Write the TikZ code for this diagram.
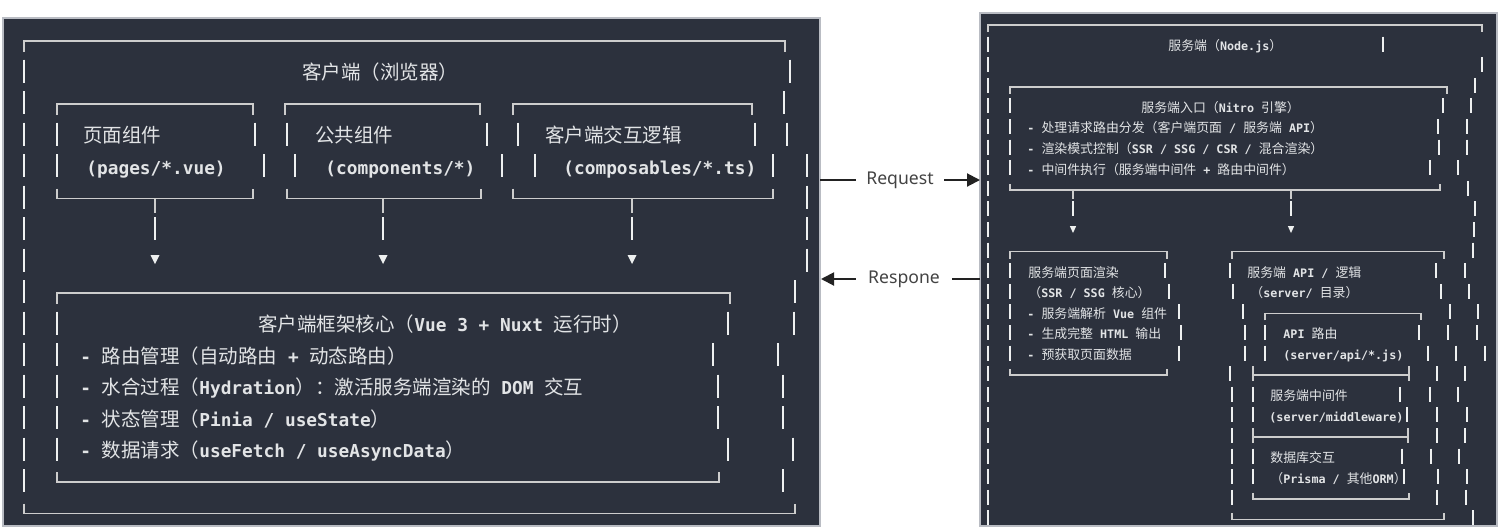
\documentclass[tikz,border=0pt]{standalone}
\usepackage{fontspec}
\newfontfamily\cjk{Noto Sans CJK SC}
\newfontfamily\mono{DejaVu Sans Mono}
\newfontfamily\lblfont{Noto Sans}
\usetikzlibrary{arrows.meta}
\definecolor{panel}{RGB}{44,49,61}
\definecolor{paneledge}{RGB}{185,188,195}
\definecolor{boxgray}{RGB}{205,205,205}
\definecolor{txt}{RGB}{226,228,230}
\definecolor{barwhite}{RGB}{238,240,240}
\definecolor{barwarm}{RGB}{225,170,120}
\definecolor{barcool}{RGB}{110,200,225}
\definecolor{ink}{RGB}{34,34,34}
\newcommand\monoL[1]{{\mono\bfseries\fontsize{8.9}{10}\selectfont #1}}
\newcommand\monoR[1]{{\mono\bfseries\fontsize{5.86}{7}\selectfont #1}}
\def\dgLy#1{(41+31.5*(#1))}
\def\dgRy#1{(25+20.6*(#1))}
\tikzset{
  boxline/.style={draw=boxgray, line width=0.8pt},
  barC/.style={draw=barwhite, line width=0.7pt},
  barL/.style={draw=barwarm, line width=0.45pt},
  barR/.style={draw=barcool, line width=0.45pt},
  tri/.style={fill=barwhite},
  ltext/.style={anchor=base west, inner sep=0pt, text=txt, font=\cjk\fontsize{9.75}{11}\selectfont},
  rtext/.style={anchor=base west, inner sep=0pt, text=txt, font=\cjk\fontsize{6.45}{8}\selectfont},
  lbl/.style={inner xsep=5pt, inner ysep=2pt, text=ink!85, font=\lblfont\fontsize{8.8}{10}\selectfont},
  conn/.style={draw=ink, line width=1pt},
  panelbox/.style={fill=panel, draw=paneledge, line width=0.6pt}
}
\newcommand\dgbar[3]{%
  \draw[barL] ({#1-0.8},{#2}) -- ({#1-0.8},{#3});
  \draw[barR] ({#1+0.8},{#2}) -- ({#1+0.8},{#3});
  \draw[barC] (#1,{#2}) -- (#1,{#3});}
\newcommand\dgLbar[2]{\dgbar{#1}{\dgLy{#2}-13}{\dgLy{#2}+10}}
\newcommand\dgRbar[2]{\dgbar{#1}{\dgRy{#2}-9}{\dgRy{#2}+6}}
\newcommand\dgLtop[3]{\draw[boxline] (#1,{\dgLy{#3}+11}) -- (#1,{\dgLy{#3}}) -- (#2,{\dgLy{#3}}) -- (#2,{\dgLy{#3}+11});}
\newcommand\dgLbot[3]{\draw[boxline] (#1,{\dgLy{#3}-10}) -- (#1,{\dgLy{#3}}) -- (#2,{\dgLy{#3}}) -- (#2,{\dgLy{#3}-10});}
\newcommand\dgRtop[3]{\draw[boxline] (#1,{\dgRy{#3}+7}) -- (#1,{\dgRy{#3}}) -- (#2,{\dgRy{#3}}) -- (#2,{\dgRy{#3}+7});}
\newcommand\dgRbot[3]{\draw[boxline] (#1,{\dgRy{#3}-6}) -- (#1,{\dgRy{#3}}) -- (#2,{\dgRy{#3}}) -- (#2,{\dgRy{#3}-6});}
\newcommand\dgRsep[3]{\draw[boxline] (#1,{\dgRy{#3}}) -- (#2,{\dgRy{#3}});
  \draw[boxline] (#1,{\dgRy{#3}-9}) -- (#1,{\dgRy{#3}+6});
  \draw[boxline] (#2,{\dgRy{#3}-9}) -- (#2,{\dgRy{#3}+6});}
\newcommand\dgLtri[1]{\fill[tri] ({#1-4.5},{\dgLy{7}-6.5}) -- ({#1+4.5},{\dgLy{7}-6.5}) -- (#1,{\dgLy{7}+2.5}) -- cycle;}
\newcommand\dgRtri[1]{\fill[tri] ({#1-3.2},{\dgRy{10}-5}) -- ({#1+3.2},{\dgRy{10}-5}) -- (#1,{\dgRy{10}+2}) -- cycle;}
\newcommand\dgLtx[4]{\node[ltext] (#1) at (#2,{\dgLy{#3}+7.4}) {#4};}
\newcommand\dgRtx[4]{\node[rtext] (#1) at (#2,{\dgRy{#3}+4.9}) {#4};}

\begin{document}
\begin{tikzpicture}[x=0.5pt,y=-0.5pt]
\useasboundingbox (0,0) rectangle (1503,531);
\fill[white] (0,0) rectangle (1503,531);
% panels
\path[panelbox] (3,18) rectangle (820,526);
\path[panelbox] (980,13) rectangle (1497,526);

% ================= LEFT PANEL =================
\dgLtop{24}{785}{0}
\foreach \k in {1,...,14} {\dgLbar{24}{\k}}
\foreach \x/\k in {790/1,784/2,787/3,807/4,807/5,807/6,807/7,795/8,794/9,778/10,783/11,783/12,793/13,783/14} {\dgLbar{\x}{\k}}
\dgLbot{24}{795}{15}
\dgLtx{client}{302}{1}{客户端（浏览器）}
% three boxes
\dgLtop{57}{253}{2}
\dgLtop{285}{480}{2}
\dgLtop{513}{752}{2}
\foreach \x/\k in {57/3,255/3,287/3,487/3,518/3,755/3,57/4,264/4,295/4,502/4,535/4,773/4} {\dgLbar{\x}{\k}}
\dgLbot{57}{253}{5}
\dgLbot{287}{481}{5}
\dgLbot{513}{773}{5}
\dgLtx{pages}{83}{3}{页面组件}
\dgLtx{comps}{315}{3}{公共组件}
\dgLtx{inter}{545}{3}{客户端交互逻辑}
\dgLtx{pagesp}{86}{4}{\monoL{(pages/*.vue)}}
\dgLtx{compsp}{325}{4}{\monoL{(components/*)}}
\dgLtx{interp}{563}{4}{\monoL{(composables/*.ts)}}
% connectors
\foreach \x in {155,383,632} {
  \draw[boxline] (\x,{\dgLy{5}}) -- (\x,{\dgLy{5}+14});
  \dgLbar{\x}{6}
  \dgLtri{\x}
}
% core box
\dgLtop{57}{730}{8}
\foreach \k in {9,...,13} {\dgLbar{57}{\k}}
\foreach \x/\k in {728/9,713/10,718/11,718/12,728/13} {\dgLbar{\x}{\k}}
\dgLbot{57}{719}{14}
\dgLtx{core}{258}{9}{客户端框架核心（\monoL{Vue 3 + Nuxt }运行时）}
\dgLtx{core1}{80}{10}{\monoL{- }路由管理（自动路由\monoL{ + }动态路由）}
\dgLtx{core2}{80}{11}{\monoL{- }水合过程（\monoL{Hydration}）：激活服务端渲染的\monoL{ DOM }交互}
\dgLtx{core3}{80}{12}{\monoL{- }状态管理（\monoL{Pinia / useState}）}
\dgLtx{core4}{80}{13}{\monoL{- }数据请求（\monoL{useFetch / useAsyncData}）}

% ================= RIGHT PANEL =================
\dgRtop{988}{1482}{0}
\foreach \j in {1,...,24} {\dgRbar{988}{\j}}
\foreach \x/\j in {1383/1,1482/2,1475/3,1471/4,1467/5,1467/6,1458/7,1468/8,1475/9,1474/10,1473/11,1465/12,1469/13,1478/14,1477/15,1485/16,1465/17,1458/18,1467/19,1465/20,1459/21,1467/22,1466/23,1473/24} {\dgRbar{\x}{\j}}
\dgRtx{server}{1168}{1}{服务端（\monoR{Node.js}）}
% entry box
\dgRtop{1010}{1447}{3}
\foreach \j in {4,...,7} {\dgRbar{1010}{\j}}
\foreach \x/\j in {1443/4,1438/5,1439/6,1430/7} {\dgRbar{\x}{\j}}
\dgRbot{1010}{1440}{8}
\dgRtx{entry}{1141}{4}{服务端入口（\monoR{Nitro }引擎）}
\dgRtx{entry1}{1027}{5}{\monoR{- }处理请求路由分发（客户端页面\monoR{ / }服务端\monoR{ API}）}
\dgRtx{entry2}{1027}{6}{\monoR{- }渲染模式控制（\monoR{SSR / SSG / CSR / }混合渲染）}
\dgRtx{entry3}{1027}{7}{\monoR{- }中间件执行（服务端中间件\monoR{ + }路由中间件）}
\foreach \x in {1073,1291} {
  \draw[boxline] (\x,{\dgRy{8}}) -- (\x,{\dgRy{8}+9});
  \dgRbar{\x}{9}
  \dgRtri{\x}
}
% SSR box
\dgRtop{1010}{1167}{11}
\foreach \j in {12,...,16} {\dgRbar{1010}{\j}}
\foreach \x/\j in {1165/12,1169/13,1179/14,1181/15,1179/16} {\dgRbar{\x}{\j}}
\dgRbot{1010}{1167}{17}
\dgRtx{ssr}{1028}{12}{服务端页面渲染}
\dgRtx{ssr0}{1028}{13}{（\monoR{SSR / SSG }核心）}
\dgRtx{ssr1}{1027}{14}{\monoR{- }服务端解析\monoR{ Vue }组件}
\dgRtx{ssr2}{1027}{15}{\monoR{- }生成完整\monoR{ HTML }输出}
\dgRtx{ssr3}{1027}{16}{\monoR{- }预获取页面数据}
% API box
\dgRtop{1232}{1444}{11}
\foreach \x/\j in {1230/12,1233/13,1243/14,1245/15,1245/16,1230/17,1232/18,1232/19,1232/20,1232/21,1232/22,1232/23} {\dgRbar{\x}{\j}}
\foreach \x/\j in {1436/12,1441/13,1450/14,1448/15,1456/16,1437/17,1430/18,1437/19,1437/20,1431/21,1438/22,1437/23} {\dgRbar{\x}{\j}}
\dgRbot{1232}{1444}{24}
\dgRtx{api}{1247}{12}{服务端\monoR{ API / }逻辑}
\dgRtx{api0}{1250}{13}{（\monoR{server/ }目录）}
% inner stack
\dgRtop{1265}{1421}{14}
\foreach \x/\j in {1265/15,1265/16,1419/15,1428/16} {\dgRbar{\x}{\j}}
\dgRsep{1253}{1409}{17}
\foreach \x/\j in {1253/18,1253/19,1400/18,1407/19} {\dgRbar{\x}{\j}}
\dgRsep{1253}{1408}{20}
\foreach \x/\j in {1253/21,1253/22,1402/21,1404/22} {\dgRbar{\x}{\j}}
\dgRbot{1253}{1409}{23}
\dgRtx{route}{1283}{15}{\monoR{API }路由}
\dgRtx{routep}{1283}{16}{\monoR{(server/api/*.js)}}
\dgRtx{mid}{1270}{18}{服务端中间件}
\dgRtx{midp}{1269}{19}{\monoR{(server/middleware)}}
\dgRtx{db}{1270}{21}{数据库交互}
\dgRtx{dbp}{1270}{22}{（\monoR{Prisma / }其他\monoR{ORM}）}

% ================= MIDDLE =================
\coordinate (lpA) at (820,180);
\coordinate (rpA) at (980,180);
\coordinate (lpB) at (821,279);
\coordinate (rpB) at (980,279);
\node[lbl] (req) at (900,180) {Request};
\node[lbl, inner xsep=6pt] (rsp) at (904,279) {Respone};
\draw[conn] (lpA) -- (req);
\draw[conn, -{Triangle[length=6.5pt,width=6.5pt]}] (req) -- (rpA);
\draw[conn, -{Triangle[length=6.5pt,width=6.5pt]}] (rsp) -- (lpB);
\draw[conn] (rpB) -- (rsp);
\end{tikzpicture}
\end{document}
